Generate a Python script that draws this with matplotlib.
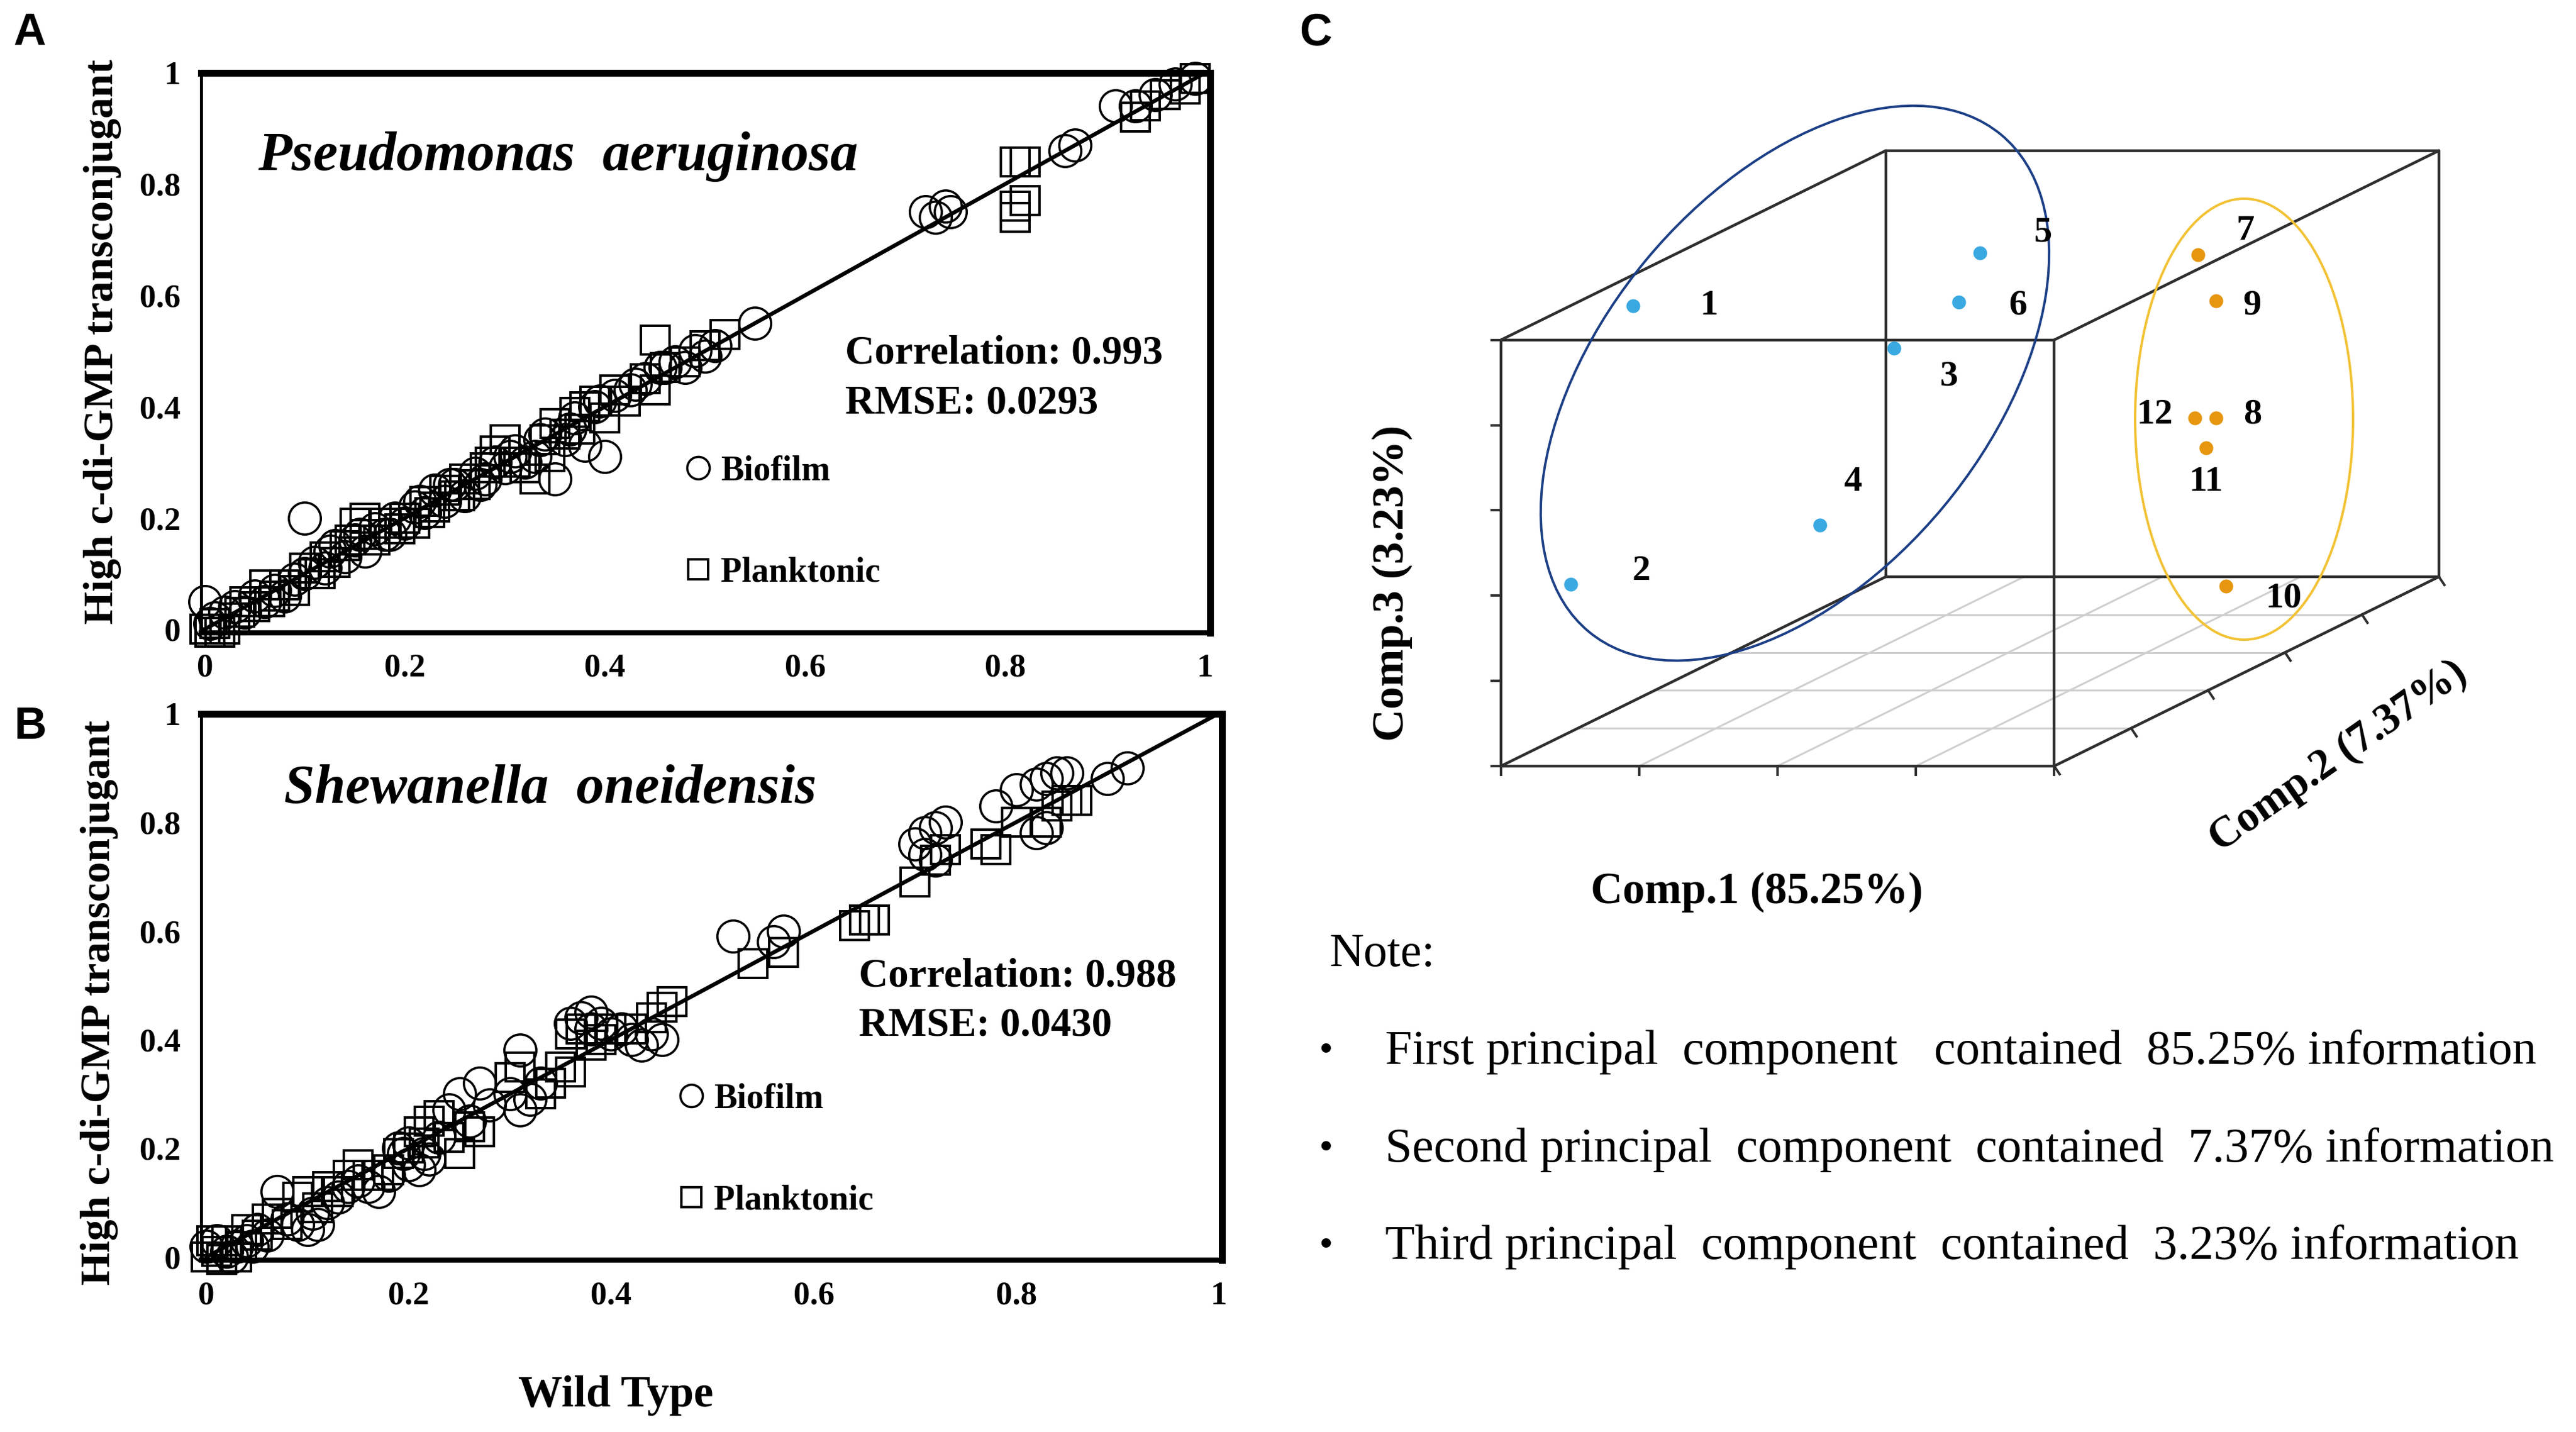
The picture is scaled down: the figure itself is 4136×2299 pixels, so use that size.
import numpy as np
import matplotlib.pyplot as plt
from matplotlib.patches import Ellipse

# ---- panel A : Pseudomonas aeruginosa (wild type vs high c-di-GMP transconjugant)
a_bio_wt = [0.0, 0.005, 0.01, 0.02, 0.03, 0.04, 0.05, 0.06, 0.07, 0.08, 0.09, 0.10, 0.10, 0.11,
            0.12, 0.13, 0.14, 0.15, 0.16, 0.17, 0.18, 0.19, 0.20, 0.21, 0.22, 0.23, 0.24, 0.25,
            0.26, 0.27, 0.28, 0.29, 0.30, 0.31, 0.32, 0.33, 0.34, 0.35, 0.36, 0.37, 0.38, 0.40,
            0.39, 0.41, 0.43, 0.44, 0.46, 0.47, 0.48, 0.49, 0.50, 0.51, 0.55, 0.72, 0.73, 0.74,
            0.745, 0.86, 0.87, 0.91, 0.93, 0.95, 0.97, 0.99,
            0.125, 0.155, 0.185, 0.215, 0.245, 0.275, 0.305, 0.335, 0.365, 0.395, 0.425, 0.455]
a_bio_hi = [0.05, 0.01, 0.02, 0.03, 0.04, 0.03, 0.06, 0.05, 0.07, 0.06, 0.09, 0.20, 0.10, 0.12,
            0.11, 0.15, 0.13, 0.16, 0.14, 0.18, 0.17, 0.20, 0.19, 0.22, 0.21, 0.25, 0.23, 0.26,
            0.24, 0.28, 0.27, 0.30, 0.29, 0.32, 0.30, 0.31, 0.35, 0.27, 0.34, 0.38, 0.33, 0.31,
            0.40, 0.42, 0.44, 0.45, 0.47, 0.48, 0.47, 0.50, 0.49, 0.51, 0.55, 0.75, 0.74, 0.76,
            0.75, 0.86, 0.87, 0.94, 0.94, 0.96, 0.98, 0.99,
            0.14, 0.17, 0.17, 0.23, 0.26, 0.26, 0.31, 0.34, 0.36, 0.41, 0.43, 0.47]
a_pla_wt = [0.0, 0.005, 0.01, 0.02, 0.03, 0.04, 0.05, 0.06, 0.07, 0.08, 0.09, 0.10, 0.11, 0.12,
            0.13, 0.14, 0.15, 0.16, 0.16, 0.17, 0.18, 0.20, 0.21, 0.22, 0.23, 0.24, 0.25, 0.26,
            0.27, 0.28, 0.29, 0.30, 0.31, 0.32, 0.33, 0.34, 0.35, 0.36, 0.37, 0.38, 0.39, 0.40,
            0.41, 0.42, 0.44, 0.45, 0.45, 0.46, 0.48, 0.50, 0.52, 0.81, 0.82, 0.81, 0.82, 0.81,
            0.93, 0.94, 0.96, 0.98, 0.99,
            0.015, 0.035, 0.065, 0.115, 0.145, 0.195, 0.225, 0.255, 0.285, 0.345, 0.375]
a_pla_hi = [0.0, -0.005, 0.01, 0.0, 0.02, 0.05, 0.04, 0.08, 0.06, 0.08, 0.07, 0.11, 0.10, 0.13,
            0.12, 0.15, 0.19, 0.20, 0.17, 0.16, 0.19, 0.20, 0.19, 0.23, 0.22, 0.25, 0.24, 0.27,
            0.26, 0.29, 0.32, 0.34, 0.30, 0.29, 0.27, 0.34, 0.37, 0.35, 0.39, 0.40, 0.41, 0.38,
            0.43, 0.41, 0.45, 0.52, 0.43, 0.47, 0.48, 0.51, 0.53, 0.84, 0.84, 0.76, 0.77, 0.74,
            0.92, 0.94, 0.96, 0.97, 0.99,
            -0.005, 0.03, 0.05, 0.10, 0.16, 0.18, 0.21, 0.24, 0.30, 0.31, 0.36]

# ---- panel B : Shewanella oneidensis
b_bio_wt = [0.0, 0.01, 0.02, 0.03, 0.04, 0.05, 0.06, 0.07, 0.08, 0.09, 0.10, 0.11, 0.12, 0.13,
            0.15, 0.16, 0.17, 0.18, 0.19, 0.20, 0.20, 0.21, 0.22, 0.23, 0.24, 0.25, 0.26, 0.27,
            0.28, 0.30, 0.31, 0.31, 0.32, 0.33, 0.37, 0.38, 0.38, 0.39, 0.40, 0.41, 0.43, 0.44,
            0.45, 0.52, 0.56, 0.57, 0.70, 0.71, 0.72, 0.73, 0.71, 0.72, 0.78, 0.80, 0.82, 0.83,
            0.84, 0.85, 0.82, 0.83, 0.89, 0.91,
            0.025, 0.045, 0.105, 0.14, 0.195, 0.215, 0.36, 0.42]
b_bio_hi = [0.02, 0.03, 0.01, 0.02, 0.03, 0.05, 0.04, 0.12, 0.07, 0.06, 0.05, 0.06, 0.10, 0.11,
            0.14, 0.13, 0.12, 0.15, 0.20, 0.21, 0.17, 0.16, 0.18, 0.22, 0.27, 0.30, 0.25, 0.32,
            0.28, 0.30, 0.38, 0.27, 0.29, 0.32, 0.44, 0.45, 0.42, 0.43, 0.41, 0.42, 0.39, 0.41,
            0.40, 0.59, 0.58, 0.60, 0.76, 0.78, 0.79, 0.80, 0.74, 0.73, 0.83, 0.86, 0.87, 0.88,
            0.89, 0.89, 0.78, 0.79, 0.88, 0.90,
            0.00, 0.02, 0.08, 0.13, 0.19, 0.19, 0.43, 0.40]
b_pla_wt = [0.0, 0.01, 0.02, 0.03, 0.04, 0.05, 0.06, 0.08, 0.09, 0.10, 0.11, 0.12, 0.13, 0.15,
            0.16, 0.18, 0.19, 0.20, 0.21, 0.22, 0.23, 0.24, 0.25, 0.26, 0.27, 0.30, 0.31, 0.34,
            0.35, 0.36, 0.36, 0.37, 0.38, 0.39, 0.42, 0.44, 0.45, 0.46, 0.54, 0.57, 0.64, 0.65,
            0.66, 0.70, 0.72, 0.73, 0.77, 0.78, 0.80, 0.83, 0.84, 0.85, 0.86,
            0.005, 0.015, 0.035, 0.07, 0.14, 0.17, 0.215, 0.33, 0.40]
b_pla_hi = [0.0, 0.01, 0.03, 0.0, 0.05, 0.04, 0.07, 0.06, 0.11, 0.12, 0.09, 0.13, 0.12, 0.17,
            0.15, 0.16, 0.19, 0.20, 0.23, 0.25, 0.26, 0.22, 0.19, 0.24, 0.23, 0.33, 0.35, 0.32,
            0.35, 0.34, 0.41, 0.42, 0.39, 0.40, 0.42, 0.44, 0.46, 0.47, 0.54, 0.56, 0.61, 0.62,
            0.62, 0.69, 0.73, 0.75, 0.76, 0.75, 0.80, 0.80, 0.83, 0.84, 0.84,
            0.03, -0.005, 0.02, 0.08, 0.15, 0.15, 0.21, 0.30, 0.42]

ticks = [0, 0.2, 0.4, 0.6, 0.8, 1]
tick_labels = ['0', '0.2', '0.4', '0.6', '0.8', '1']

# ---- panel C : PCA scores (scaled to the plotting box, 0..1 on each component)
pca_ids = ['1', '2', '3', '4', '5', '6', '7', '8', '9', '10', '11', '12']
pca_c1 = [0.030, 0.056, 0.363, 0.298, 0.379, 0.410, 0.842, 0.910, 0.910, 0.893, 0.927, 0.906]
pca_c2 = [0.30, 0.10, 0.50, 0.40, 0.70, 0.60, 0.60, 0.55, 0.55, 0.60, 0.50, 0.50]
pca_c3 = [0.947, 0.382, 0.758, 0.388, 0.894, 0.822, 0.934, 0.573, 0.848, 0.155, 0.525, 0.595]
pca_group = [0, 0, 0, 0, 0, 0, 1, 1, 1, 1, 1, 1]

notes = ['First principal  component   contained  85.25% information',
         'Second principal  component  contained  7.37% information',
         'Third principal  component  contained  3.23% information']

SERIF = 'Liberation Serif'
SANS = 'Liberation Sans'
W_PX, H_PX = 1560.0, 867.0   # layout grid used for placement


def fx(px):
    return px / W_PX


def fy(py):
    return 1 - py / H_PX


fig = plt.figure(figsize=(41.36, 22.99), dpi=100)


def scatter_panel(frame, xlim, ylim, bio, pla, title, title_xy, stats, stats_xy, leg_xy):
    l, r, t, b = frame
    ax = fig.add_axes([fx(l), fy(b), fx(r) - fx(l), fy(t) - fy(b)])
    ax.plot([0, 1], [0, 1], color='black', lw=4.6, zorder=3)
    ax.plot(bio[0], bio[1], 'o', ms=37, mfc='none', mec='black', mew=2.6, clip_on=False,
            label='Biofilm', zorder=2)
    ax.plot(pla[0], pla[1], 's', ms=33, mfc='none', mec='black', mew=2.8, clip_on=False,
            label='Planktonic', zorder=2)
    ax.set_xlim(*xlim)
    ax.set_ylim(*ylim)
    ax.set_xticks(ticks)
    ax.set_yticks(ticks)
    ax.set_xticklabels(tick_labels)
    ax.set_yticklabels(tick_labels)
    ax.tick_params(length=0, labelsize=38, pad=24)
    for lab in ax.get_xticklabels() + ax.get_yticklabels():
        lab.set_fontfamily(SERIF)
        lab.set_fontweight('bold')
    ax.spines['top'].set_linewidth(8)
    ax.spines['right'].set_linewidth(8)
    ax.spines['bottom'].set_linewidth(6)
    ax.spines['left'].set_linewidth(3.5)
    fig.text(fx(title_xy[0]), fy(title_xy[1]), title, family=SERIF, weight='bold',
             style='italic', fontsize=64, ha='left', va='center')
    for k, line in enumerate(stats):
        fig.text(fx(stats_xy[0]), fy(stats_xy[1] + 30 * k), line, family=SERIF,
                 weight='bold', fontsize=47, ha='left', va='center')
    ax.legend(loc='upper left', bbox_to_anchor=(fx(leg_xy[0]), fy(leg_xy[1])),
              bbox_transform=fig.transFigure, frameon=False, markerscale=0.7,
              handlelength=0.6, handletextpad=0.35, labelspacing=2.0, borderpad=0,
              prop={'family': SERIF, 'weight': 'bold', 'size': 40})
    return ax


scatter_panel((122, 733, 44, 383), (-0.0033, 1.005), (-0.006, 1.0),
              (a_bio_wt, a_bio_hi), (a_pla_wt, a_pla_hi),
              'Pseudomonas  aeruginosa', (156, 95),
              ['Correlation: 0.993', 'RMSE: 0.0293'], (512, 214), (406, 265))
scatter_panel((122, 740, 432, 763), (-0.0049, 1.0033), (-0.006, 1.0),
              (b_bio_wt, b_bio_hi), (b_pla_wt, b_pla_hi),
              'Shewanella  oneidensis', (172, 478),
              ['Correlation: 0.988', 'RMSE: 0.0430'], (520, 591), (402, 645))

for ylab_x, ylab_y in [(62, 207), (60, 607)]:
    fig.text(fx(ylab_x), fy(ylab_y), 'High c-di-GMP transconjugant', rotation=90,
             family=SERIF, weight='bold', fontsize=49, ha='center', va='center')
fig.text(fx(373), fy(845), 'Wild Type', family=SERIF, weight='bold', fontsize=51,
         ha='center', va='center')
for letter, (px, py) in zip('ABC', [(18, 20), (18, 440), (797, 20)]):
    fig.text(fx(px), fy(py), letter, family=SANS, weight='bold', fontsize=52,
             ha='center', va='center')

# ---- panel C : oblique box projection
ORG_X, ORG_Y = 909.0, 463.8        # front-bottom-left corner on the layout grid
BW, BH, DX, DZ = 335.0, 258.0, 233.0, 114.6


def proj(c1, c2, c3):
    c1, c2, c3 = np.asarray(c1, float), np.asarray(c2, float), np.asarray(c3, float)
    return BW * c1 + DX * c2, BH * c3 + DZ * c2


ax3 = fig.add_axes([fx(780), 0, 1 - fx(780), 1])
ax3.set_xlim(780 - ORG_X, W_PX - ORG_X)
ax3.set_ylim(ORG_Y - H_PX, ORG_Y)
ax3.axis('off')

# floor grid
grid_kw = dict(color='#cfcfcf', lw=2.2, zorder=1)
for d in [0.2, 0.4, 0.6, 0.8]:
    ax3.plot(*proj([0, 1], [d, d], [0, 0]), **grid_kw)
for c in [0.25, 0.5, 0.75]:
    ax3.plot(*proj([c, c], [0, 1], [0, 0]), **grid_kw)

# box edges
box_col = '#2e2e2e'
corners = [(i, j, k) for i in (0, 1) for j in (0, 1) for k in (0, 1)]
for p in corners:
    for q in corners:
        if p < q and sum(abs(a - b) for a, b in zip(p, q)) == 1:
            ax3.plot(*proj([p[0], q[0]], [p[1], q[1]], [p[2], q[2]]),
                     color=box_col, lw=3.2, zorder=2, solid_capstyle='round')

# small ticks on the three axes
tk = 5.5
for c in [0, 0.25, 0.5, 0.75, 1]:
    x0, y0 = proj(c, 0, 0)
    ax3.plot([x0, x0], [y0, y0 - tk], color=box_col, lw=2.8)
for v in [0, 0.2, 0.4, 0.6, 0.8, 1]:
    x0, y0 = proj(0, 0, v)
    ax3.plot([x0 - tk, x0], [y0, y0], color=box_col, lw=2.8)
    x0, y0 = proj(1, v, 0)
    ax3.plot([x0, x0 + tk * 0.6], [y0, y0 - tk * 0.9], color=box_col, lw=2.8)

# score points
px_, py_ = proj(pca_c1, pca_c2, pca_c3)
colors = ['#3aa9e2', '#e6960f']
grp = np.array(pca_group)
for g in (0, 1):
    ax3.plot(px_[grp == g], py_[grp == g], 'o', ms=16, color=colors[g], mec='none', zorder=4)

label_off = {'1': (46, 0), '2': (43, 8), '3': (33, -17), '4': (20, 26), '5': (38, 12),
             '6': (36, -2), '7': (29, 14), '8': (22, 2), '9': (22, -3), '10': (35, -7),
             '11': (0, -21), '12': (-24, 2)}
for name, x0, y0 in zip(pca_ids, px_, py_):
    dx, dy = label_off[name]
    ax3.text(x0 + dx, y0 + dy, name, family=SERIF, weight='bold', fontsize=42,
             ha='center', va='center', zorder=5)

ax3.add_patch(Ellipse((178, 231.8), 391, 234, angle=50.3, fill=False,
                      ec='#1c3f86', lw=2.8, zorder=3))
ax3.add_patch(Ellipse((450, 210), 132, 267, angle=0, fill=False,
                      ec='#f2c234', lw=2.8, zorder=3))

fig.text(fx(1064), fy(540), 'Comp.1 (85.25%)', family=SERIF, weight='bold', fontsize=51,
         ha='center', va='center')
fig.text(fx(843), fy(353), 'Comp.3 (3.23%)', family=SERIF, weight='bold', fontsize=52,
         ha='center', va='center', rotation=90)
fig.text(fx(1416), fy(458), 'Comp.2 (7.37%)', family=SERIF, weight='bold', fontsize=50,
         ha='center', va='center', rotation=35)

fig.text(fx(805), fy(578), 'Note:', family=SERIF, fontsize=55, ha='left', va='center')
for i, line in enumerate(notes):
    y = 637 + 59 * i
    fig.text(fx(803), fy(y), '\u2022', family=SERIF, fontsize=46, ha='center', va='center')
    fig.text(fx(839), fy(y), line, family=SERIF, fontsize=56, ha='left', va='center')

fig.savefig('out.png', dpi=100, facecolor='white')
